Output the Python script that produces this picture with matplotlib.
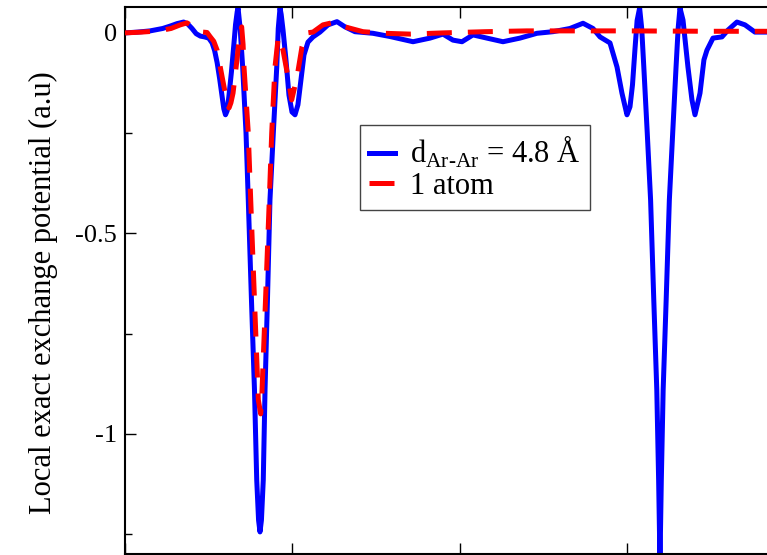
import matplotlib
matplotlib.use('Agg')
import matplotlib.pyplot as plt
from matplotlib.ticker import MultipleLocator, NullFormatter

# Данные (x в Å, центр между атомами в 0)
x_dimer = [-4.000, -3.850, -3.700, -3.550, -3.460, -3.380, -3.300, -3.250, -3.200, -3.150,
           -3.100, -3.050, -3.000, -2.960, -2.930, -2.900, -2.870, -2.840, -2.820, -2.800,
           -2.780, -2.760, -2.730, -2.700, -2.680, -2.660, -2.650, -2.625, -2.595, -2.555,
           -2.528, -2.490, -2.454, -2.427, -2.405, -2.388, -2.371, -2.349, -2.328, -2.299,
           -2.269, -2.229, -2.188, -2.170, -2.149, -2.135, -2.113, -2.078, -2.042, -2.006,
           -1.970, -1.935, -1.899, -1.863, -1.815, -1.755, -1.672, -1.576, -1.469, -1.373,
           -1.254, -1.039, -0.836, -0.561, -0.358, -0.203, -0.084, 0.024, 0.155, 0.322,
           0.513, 0.716, 0.919, 1.110, 1.313, 1.469, 1.588, 1.672, 1.791, 1.875,
           1.934, 1.994, 2.030, 2.060, 2.090, 2.115, 2.145, 2.170, 2.195, 2.236,
           2.276, 2.314, 2.350, 2.372, 2.388, 2.404, 2.426, 2.462, 2.500, 2.540,
           2.580, 2.605, 2.627, 2.663, 2.722, 2.770, 2.806, 2.866, 2.913, 2.949,
           3.021, 3.128, 3.200, 3.307, 3.403, 3.522, 3.666]
v_dimer = [-0.001, 0.001, 0.004, 0.010, 0.016, 0.022, 0.026, 0.021, 0.010, -0.003,
           -0.009, -0.011, -0.014, -0.026, -0.045, -0.075, -0.115, -0.160, -0.190, -0.205,
           -0.195, -0.160, -0.100, -0.030, 0.020, 0.052, 0.061, 0.010, -0.086, -0.250,
           -0.417, -0.666, -0.890, -1.115, -1.215, -1.244, -1.215, -1.115, -0.890, -0.666,
           -0.417, -0.250, -0.086, 0.010, 0.061, 0.045, 0.006, -0.068, -0.156, -0.198,
           -0.205, -0.180, -0.118, -0.056, -0.024, -0.011, 0.001, 0.019, 0.027, 0.014,
           0.002, -0.002, -0.010, -0.023, -0.014, -0.004, -0.019, -0.023, -0.006, -0.014,
           -0.023, -0.014, -0.002, 0.002, 0.010, 0.023, 0.010, -0.011, -0.026, -0.086,
           -0.151, -0.205, -0.185, -0.130, -0.040, 0.030, 0.061, 0.010, -0.086, -0.250,
           -0.417, -0.666, -0.890, -1.115, -1.320, -1.115, -0.890, -0.666, -0.417, -0.250,
           -0.086, 0.010, 0.061, 0.031, -0.086, -0.168, -0.205, -0.151, -0.068, -0.044,
           -0.014, -0.011, 0.006, 0.026, 0.019, 0.001, 0.001]

x_atom = [-4.000, -3.800, -3.600, -3.450, -3.340, -3.260, -3.200, -3.130, -3.070, -3.020,
          -2.985, -2.940, -2.900, -2.840, -2.780, -2.758, -2.735, -2.710, -2.663, -2.635,
          -2.607, -2.590, -2.579, -2.528, -2.499, -2.454, -2.408, -2.380, -2.368, -2.322,
          -2.277, -2.248, -2.209, -2.170, -2.113, -2.054, -2.010, -1.946, -1.887, -1.827,
          -1.755, -1.636, -1.490, -1.373, -1.158, -0.900, -0.600, -0.200, 0.300, 0.800,
          1.300, 2.000, 3.000, 3.666]
v_atom = [-0.001, 0.001, 0.004, 0.010, 0.019, 0.024, 0.016, 0.005, 0.001, 0.000,
          -0.010, -0.022, -0.044, -0.111, -0.176, -0.188, -0.175, -0.151, -0.068, -0.010,
          0.014, -0.030, -0.086, -0.250, -0.417, -0.666, -0.915, -0.950, -0.915, -0.666,
          -0.417, -0.250, -0.086, -0.011, -0.044, -0.111, -0.168, -0.111, -0.036, -0.001,
          0.001, 0.019, 0.026, 0.014, 0.002, -0.002, -0.004, -0.001, 0.002, 0.004,
          0.004, 0.004, 0.003, 0.003]

plt.rcParams['font.family'] = ['Liberation Serif', 'DejaVu Serif']
plt.rcParams['mathtext.fontset'] = 'custom'
plt.rcParams['mathtext.rm'] = 'Liberation Serif'
plt.rcParams['axes.unicode_minus'] = False

fig = plt.figure(figsize=(7.67, 5.55), dpi=100)
ax = fig.add_axes([125 / 767, 1 / 555, 642 / 767, 547 / 555])

ax.plot(x_dimer, v_dimer, color='#0000ff', lw=3.6, solid_joinstyle='round',
        label=r'd$_{\text{Ar-Ar}}$ = 4.8 Å', zorder=2)
ax.plot(x_atom, v_atom, color='#ff0000', lw=3.6, dashes=(5, 3.2), dash_capstyle='butt',
        label='1 atom', zorder=3)

ax.set_xlim(-4.0, 3.666)
ax.set_ylim(-1.299, 0.0635)

ax.xaxis.set_major_locator(MultipleLocator(2))
ax.xaxis.set_major_formatter(NullFormatter())
ax.yaxis.set_major_locator(MultipleLocator(0.5))
ax.yaxis.set_minor_locator(MultipleLocator(0.25))
ax.set_yticks([0, -0.5, -1])
ax.set_yticklabels(['0', '-0.5', '-1'])
ax.tick_params(which='major', direction='in', length=8, width=1, top=True, right=False,
               labelsize=19, pad=6)
ax.tick_params(which='minor', direction='in', length=5, width=1, right=False)
ax.spines['right'].set_visible(False)
for s in ['left', 'top', 'bottom']:
    ax.spines[s].set_linewidth(1.5)

ax.set_ylabel('Local exact exchange potential (a.u)', fontsize=22)
ax.yaxis.set_label_coords((58 - 125) / 642, 0.477)

leg = ax.legend(loc='upper left', bbox_to_anchor=((360 - 125) / 642, 0.784),
                borderaxespad=0, fontsize=22, handlelength=0.85, handletextpad=0.5,
                labelspacing=0.05, borderpad=0.3, fancybox=False, framealpha=1)
leg.get_frame().set_edgecolor('#444444')
leg.get_frame().set_linewidth(1.0)

plt.savefig('out.png', dpi=100)
